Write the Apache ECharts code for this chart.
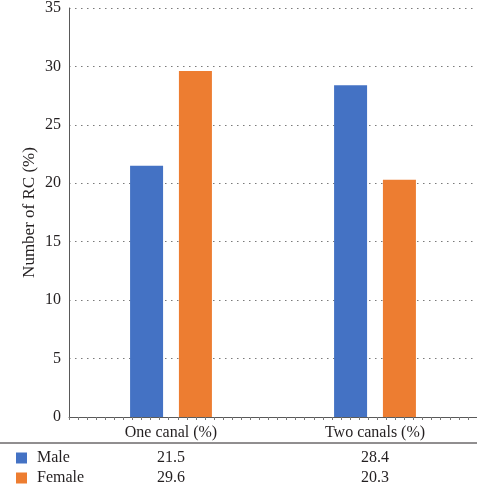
<!DOCTYPE html>
<html>
<head>
<meta charset="utf-8">
<script src="https://cdn.jsdelivr.net/npm/echarts@6/dist/echarts.min.js"></script>
<style>html,body{margin:0;padding:0;background:#fff}#c{width:477px;height:486px}</style>
</head>
<body>
<div id="c"></div>
<script>
var categories = ['One canal (%)', 'Two canals (%)'];
var seriesNames = ['Male', 'Female'];
var maleValues = [21.5, 28.4];
var femaleValues = [29.6, 20.3];
var yTicks = [0, 5, 10, 15, 20, 25, 30, 35];
var colors = ['#4472C4', '#ED7D31'];
var FONT = '"Liberation Serif", "DejaVu Serif", serif';

var chart = echarts.init(document.getElementById('c'), null, {renderer: 'canvas'});
var legendRowTop = [449, 469];
var option = {
  animation: false,
  textStyle: {fontFamily: FONT},
  grid: {left: 69, right: 0, top: 5, bottom: 69, containLabel: false},
  legend: seriesNames.map(function (n, i) {
    return {
      data: [n], orient: 'horizontal', left: 16, top: legendRowTop[i], padding: 0,
      itemWidth: 11, itemHeight: 11, icon: 'rect',
      textStyle: {fontFamily: FONT, fontSize: 16, color: '#231f20', padding: [0, 0, 0, 5], lineHeight: 18}
    };
  }),
  xAxis: [{
    type: 'category', data: categories,
    axisLine: {show: true, lineStyle: {color: '#595959', width: 1}},
    axisTick: {show: false},
    axisLabel: {fontFamily: FONT, fontSize: 16, color: '#231f20', margin: 8}
  }, {
    type: 'value', min: 0, max: 45, interval: 1, position: 'bottom',
    axisLine: {show: false},
    axisTick: {show: true, length: 3, lineStyle: {color: '#777'}},
    axisLabel: {show: false}, splitLine: {show: false}
  }],
  yAxis: {
    type: 'value', min: yTicks[0], max: yTicks[yTicks.length - 1], interval: 5,
    name: 'Number of RC (%)', nameLocation: 'middle', nameGap: 31, nameMoveOverlap: false,
    nameTextStyle: {fontFamily: FONT, fontSize: 17, color: '#231f20'},
    axisLine: {show: true, lineStyle: {color: '#595959', width: 1}},
    axisTick: {show: false},
    axisLabel: {fontFamily: FONT, fontSize: 16, color: '#231f20', margin: 8},
    splitLine: {show: true, lineStyle: {color: '#7a7a7a', type: [1.5, 4.5], width: 1.2}}
  },
  series: [
    {name: seriesNames[0], type: 'bar', data: maleValues, barWidth: 33, barGap: '48%', itemStyle: {color: colors[0]}},
    {name: seriesNames[1], type: 'bar', data: femaleValues, barWidth: 33, barGap: '48%', itemStyle: {color: colors[1]}}
  ]
};
chart.setOption(option);

var g = [{type: 'line', shape: {x1: 0, y1: 443, x2: 477, y2: 443}, style: {stroke: '#231f20', lineWidth: 1}}];
var rows = [maleValues, femaleValues];
var rowY = [458, 478];
categories.forEach(function (c, i) {
  var x = chart.convertToPixel({xAxisIndex: 0}, c);
  rows.forEach(function (vals, r) {
    g.push({type: 'text', x: x, y: rowY[r], style: {text: vals[i].toFixed(1), fontFamily: FONT, fontSize: 16, fill: '#231f20', align: 'center', verticalAlign: 'middle'}});
  });
});
chart.setOption({graphic: g});
</script>
</body>
</html>
